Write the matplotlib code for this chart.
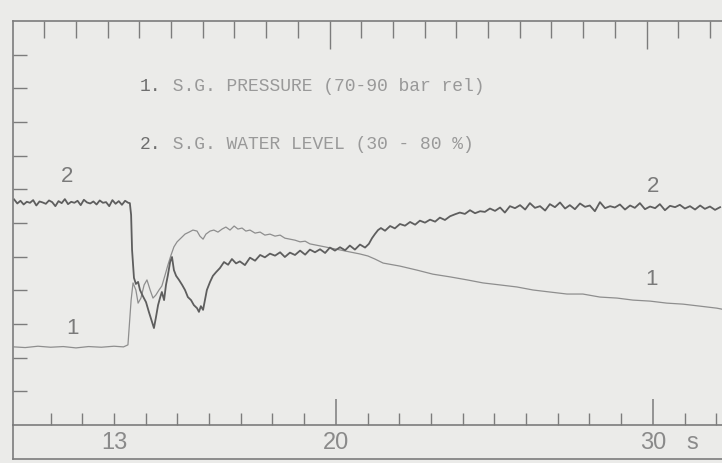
import numpy as np
import matplotlib
matplotlib.use("Agg")
import matplotlib.pyplot as plt
from matplotlib.lines import Line2D
from matplotlib.transforms import offset_copy

# time axis in s, values in chart divisions (0-12)
level_t = [9.85, 9.95, 10.05, 10.15, 10.25, 10.35, 10.45, 10.55, 10.65, 10.75,
           10.85, 10.95, 11.05, 11.15, 11.25, 11.35, 11.45, 11.55, 11.65, 11.75,
           11.85, 11.95, 12.05, 12.15, 12.25, 12.35, 12.45, 12.55, 12.65, 12.75,
           12.85, 12.95, 13.05, 13.15, 13.25, 13.35, 13.45, 13.50,
           13.54, 13.57, 13.63, 13.69, 13.76, 13.82, 13.91, 14.01, 14.10, 14.20,
           14.26, 14.32, 14.39, 14.45, 14.51, 14.58, 14.64, 14.70, 14.77, 14.83,
           14.89, 14.96, 15.05, 15.15, 15.24, 15.33, 15.43, 15.52, 15.62, 15.68,
           15.74, 15.81, 15.87, 15.93, 16.03, 16.12, 16.22, 16.34, 16.47, 16.60,
           16.72, 16.85, 16.97, 17.13, 17.29, 17.45, 17.61, 17.76, 17.92, 18.08,
           18.24, 18.39, 18.55, 18.71, 18.87, 19.03, 19.18, 19.34, 19.50, 19.66,
           19.81, 19.97, 20.13, 20.29, 20.44, 20.60, 20.76, 20.92, 21.04, 21.14,
           21.23, 21.33, 21.42, 21.55, 21.71, 21.86,
           22.02, 22.18, 22.34, 22.50, 22.65, 22.81, 22.97, 23.13, 23.28, 23.44,
           23.60, 23.76, 23.91, 24.07, 24.23, 24.39, 24.55, 24.70, 24.86, 25.02,
           25.18, 25.33, 25.49, 25.65, 25.81, 25.97, 26.12, 26.28, 26.44, 26.60,
           26.75, 26.91, 27.07, 27.23, 27.38, 27.54, 27.70, 27.86, 28.01, 28.17,
           28.33, 28.49, 28.65, 28.80, 28.96, 29.12, 29.28, 29.43, 29.59, 29.75,
           29.91, 30.07, 30.22, 30.38, 30.54, 30.70, 30.85, 31.01, 31.17, 31.33,
           31.49, 31.64, 31.80, 31.96, 32.12]
level_v = [6.70, 6.58, 6.66, 6.55, 6.63, 6.60, 6.68, 6.52, 6.64, 6.61,
           6.57, 6.67, 6.62, 6.50, 6.65, 6.59, 6.71, 6.56, 6.63, 6.60,
           6.66, 6.53, 6.69, 6.61, 6.58, 6.64, 6.55, 6.67, 6.60, 6.62,
           6.50, 6.68, 6.57, 6.65, 6.54, 6.66, 6.60, 6.59,
           6.24, 5.20, 4.37, 4.19, 4.25, 4.01, 3.83, 3.65, 3.36, 3.06,
           2.88, 3.18, 3.56, 3.77, 3.95, 3.71, 4.16, 4.45, 4.84, 4.99,
           4.60, 4.43, 4.31, 4.16, 4.01, 3.80, 3.71, 3.56, 3.47, 3.36,
           3.53, 3.42, 3.71, 4.01, 4.25, 4.43, 4.54, 4.66, 4.84, 4.76,
           4.93, 4.80, 4.86, 4.75, 4.97, 4.88, 5.05, 4.98, 5.09, 5.03,
           5.13, 4.99, 5.12, 5.05, 5.18, 5.06, 5.21, 5.13, 5.22, 5.11,
           5.27, 5.18, 5.28, 5.19, 5.33, 5.21, 5.36, 5.27, 5.38, 5.55,
           5.67, 5.79, 5.85, 5.77, 5.91, 5.84,
           5.97, 5.92, 6.03, 5.95, 6.07, 6.01, 6.10, 6.04, 6.16, 6.09,
           6.20, 6.26, 6.31, 6.27, 6.38, 6.29, 6.35, 6.33, 6.43, 6.36,
           6.46, 6.31, 6.50, 6.44, 6.53, 6.40, 6.59, 6.45, 6.50, 6.37,
           6.56, 6.47, 6.61, 6.43, 6.53, 6.41, 6.58, 6.48, 6.52, 6.35,
           6.62, 6.44, 6.50, 6.46, 6.55, 6.40, 6.52, 6.45, 6.59, 6.41,
           6.49, 6.44, 6.56, 6.38, 6.51, 6.47, 6.54, 6.43, 6.50, 6.40,
           6.52, 6.42, 6.49, 6.39, 6.47]

press_t = [9.85, 10.2, 10.6, 11.0, 11.4, 11.8, 12.2, 12.6, 13.0, 13.30, 13.44,
           13.54, 13.60, 13.69, 13.76, 13.85, 13.95, 14.04, 14.14, 14.23, 14.32,
           14.42, 14.51, 14.61, 14.70, 14.80, 14.89, 14.99, 15.11, 15.24, 15.37,
           15.49, 15.62, 15.71, 15.81, 15.90, 16.03, 16.15, 16.28, 16.41, 16.53,
           16.66, 16.79, 16.91, 17.04, 17.16, 17.29, 17.45, 17.61, 17.76, 17.92,
           18.08, 18.24, 18.39, 18.55, 18.71, 18.87, 19.03, 19.18, 19.34, 19.50,
           19.66, 19.81, 20.13, 20.44, 20.76, 21.01, 21.23, 21.49, 22.02, 22.56,
           23.06, 23.60, 24.14, 24.64, 25.18, 25.71, 26.22, 26.75, 27.29, 27.79,
           28.33, 28.87, 29.37, 29.91, 30.44, 30.95, 31.49, 32.02, 32.18]
press_v = [2.32, 2.30, 2.34, 2.31, 2.33, 2.29, 2.33, 2.31, 2.34, 2.32, 2.38,
           3.71, 4.22, 4.01, 3.62, 3.77, 4.16, 4.31, 4.01, 3.77, 3.86,
           4.01, 4.13, 4.45, 4.75, 5.05, 5.29, 5.44, 5.55, 5.67, 5.73,
           5.79, 5.76, 5.61, 5.52, 5.67, 5.76, 5.79, 5.73, 5.82, 5.88,
           5.79, 5.91, 5.82, 5.85, 5.76, 5.79, 5.70, 5.73, 5.64, 5.67,
           5.61, 5.64, 5.55, 5.52, 5.49, 5.44, 5.46, 5.38, 5.35, 5.32,
           5.29, 5.26, 5.20, 5.14, 5.08, 5.02, 4.93, 4.81, 4.72, 4.60,
           4.48, 4.40, 4.31, 4.22, 4.16, 4.10, 4.01, 3.95, 3.89, 3.89,
           3.80, 3.77, 3.71, 3.68, 3.62, 3.59, 3.53, 3.47, 3.44]

legend_lines = ["1. S.G. PRESSURE (70-90 bar rel)",
                "2. S.G. WATER LEVEL (30 - 80 %)"]

paper = "#ebebe9"
ink = "#7c7c7c"

fig = plt.figure(figsize=(7.22, 4.63), dpi=100, facecolor=paper)
ax = fig.add_axes([13 / 722, 38 / 463, 709 / 722, 404 / 463])
ax.set_facecolor(paper)
ax.set_xlim(9.814, 32.18)
ax.set_ylim(0, 12)

ax.plot(press_t, press_v, color="#8e8e8e", lw=0.9)
ax.plot(level_t, level_v, color="#5e5e5e", lw=1.3)

for side in ["left", "top", "bottom"]:
    ax.spines[side].set_color(ink)
    ax.spines[side].set_linewidth(1.2)
ax.spines["right"].set_visible(False)

# bottom axis
ax.set_xticks([20, 30], labels=["20", "30"])
minor = [t for t in range(11, 33) if t not in (20, 30)]
ax.set_xticks(minor, labels=["13" if t == 13 else "" for t in minor], minor=True)
ax.tick_params(axis="x", which="major", direction="in", length=19, width=1.1,
               color=ink, labelsize=17, labelcolor="#8a8a8a", pad=5)
ax.tick_params(axis="x", which="minor", direction="in", length=9, width=1.0,
               color=ink, labelsize=17, labelcolor="#8a8a8a", pad=5)
for lab in ax.get_xticklabels(which="both"):
    lab.set_family("Liberation Sans")
ax.text(31.25, -7 / 404, "s", transform=ax.get_xaxis_transform(), ha="center",
        va="top", fontsize=17, color="#8a8a8a", family="Liberation Sans")

# top axis (scan is slightly skewed)
top = ax.secondary_xaxis("top", functions=(lambda t: t + 0.2, lambda t: t - 0.2))
top.set_xticks([20, 30], labels=["", ""])
top.set_xticks([t for t in range(11, 33) if t not in (20, 30)], minor=True)
top.tick_params(which="major", direction="in", length=20, width=1.0, color=ink)
top.tick_params(which="minor", direction="in", length=12, width=1.0, color=ink)
top.spines["top"].set_visible(False)

# left axis
ax.set_yticks(range(1, 12), labels=[""] * 11)
ax.tick_params(axis="y", direction="in", length=10, width=1.0, color=ink)

# extra frame lines of the recorder paper
fig.add_artist(Line2D([13 / 722, 13 / 722], [4 / 463, 38 / 463], color=ink, lw=1.2))
fig.add_artist(Line2D([13 / 722, 1.0], [4 / 463, 4 / 463], color=ink, lw=1.2))

# legend text: number darker, rest lighter (monospace, 2 chars = 15.6 pt)
for yv, txt in zip([10.04, 8.32], legend_lines):
    ax.text(13.82, yv, txt[:2], family="Liberation Mono", fontsize=13,
            color="#6e6e6e", va="center", ha="left")
    shifted = offset_copy(ax.transData, fig=fig, x=2 * 0.6 * 13, units="points")
    ax.text(13.82, yv, txt[2:], family="Liberation Mono", fontsize=13,
            color="#999999", va="center", ha="left", transform=shifted)

# curve numbers
for t, v, s in [(11.52, 7.37, "2"), (11.68, 2.88, "1"), (30.0, 7.07, "2"), (29.97, 4.31, "1")]:
    ax.text(t, v, s, fontsize=16, color="#7a7a7a", ha="center", va="center",
            family="Liberation Sans")

fig.savefig("out.png", dpi=100, facecolor=paper)
